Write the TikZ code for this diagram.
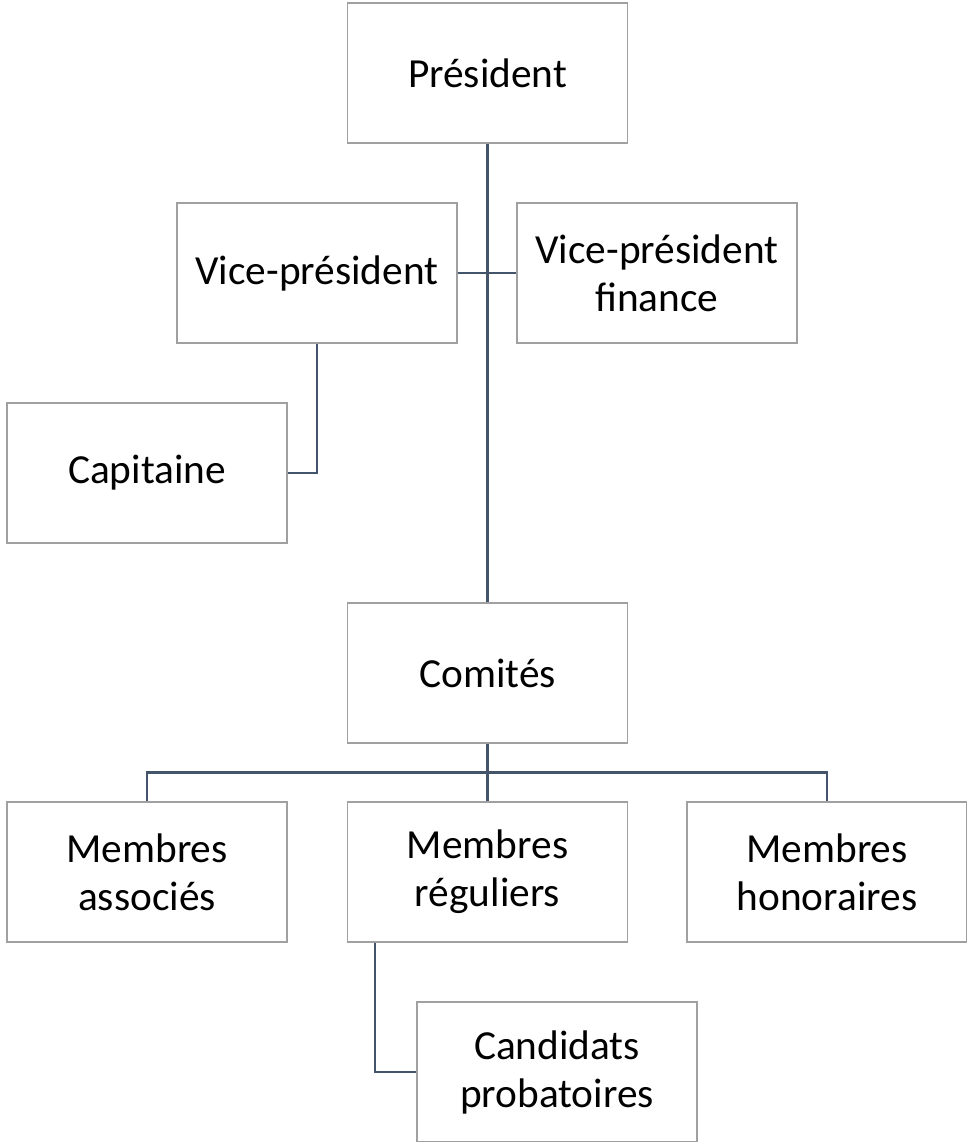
\documentclass[tikz,border=0pt]{standalone}
\usepackage{fontspec}
\setmainfont{Carlito}
\usepackage{xcolor}
\definecolor{boxLine}{HTML}{A0A0A0}
\definecolor{linkLine}{HTML}{44546A}

\begin{document}
\begin{tikzpicture}[
    x=0.75pt, y=-0.75pt,
    box/.style={
        rectangle,
        minimum width=210pt,
        minimum height=105pt,
        draw=boxLine,
        line width=0.8pt,
        align=center,
        fill=white,
        inner sep=0pt,
        font=\fontsize{31}{36}\selectfont,
      },
    link/.style={line width=1.6pt, draw=linkLine},
  ]
  \useasboundingbox (0,0) rectangle (967,1142);

  \node[box] (pres) at (487.5,73) {Président};
  \node[box] (vp) at (317,273) {Vice-président};
  \node[box] (vpf) at (657,273) {Vice-président\\finance};
  \node[box] (cap) at (147,473) {Capitaine};
  \node[box] (com) at (487.5,673) {Comités};
  \node[box] (ma) at (147,872) {Membres\\associés};
  \node[box] (mr) at (487.5,872) {Membres\\réguliers};
  \node[box] (mh) at (827,872) {Membres\\honoraires};
  \node[box] (cand) at (557,1072) {Candidats\\probatoires};

  \draw[link] (pres.south) -- (com.north);
  \draw[link] (vp.east) -- (vpf.west);
  \draw[link] (vp.south) |- (cap.east);

  \draw[link] (com.south) -- (mr.north);
  \draw[link] (ma.north) -- ++(0,-29) -| (mh.north);

  \draw[link] ([xshift=21pt]mr.south west) |- (cand.west);
\end{tikzpicture}
\end{document}
